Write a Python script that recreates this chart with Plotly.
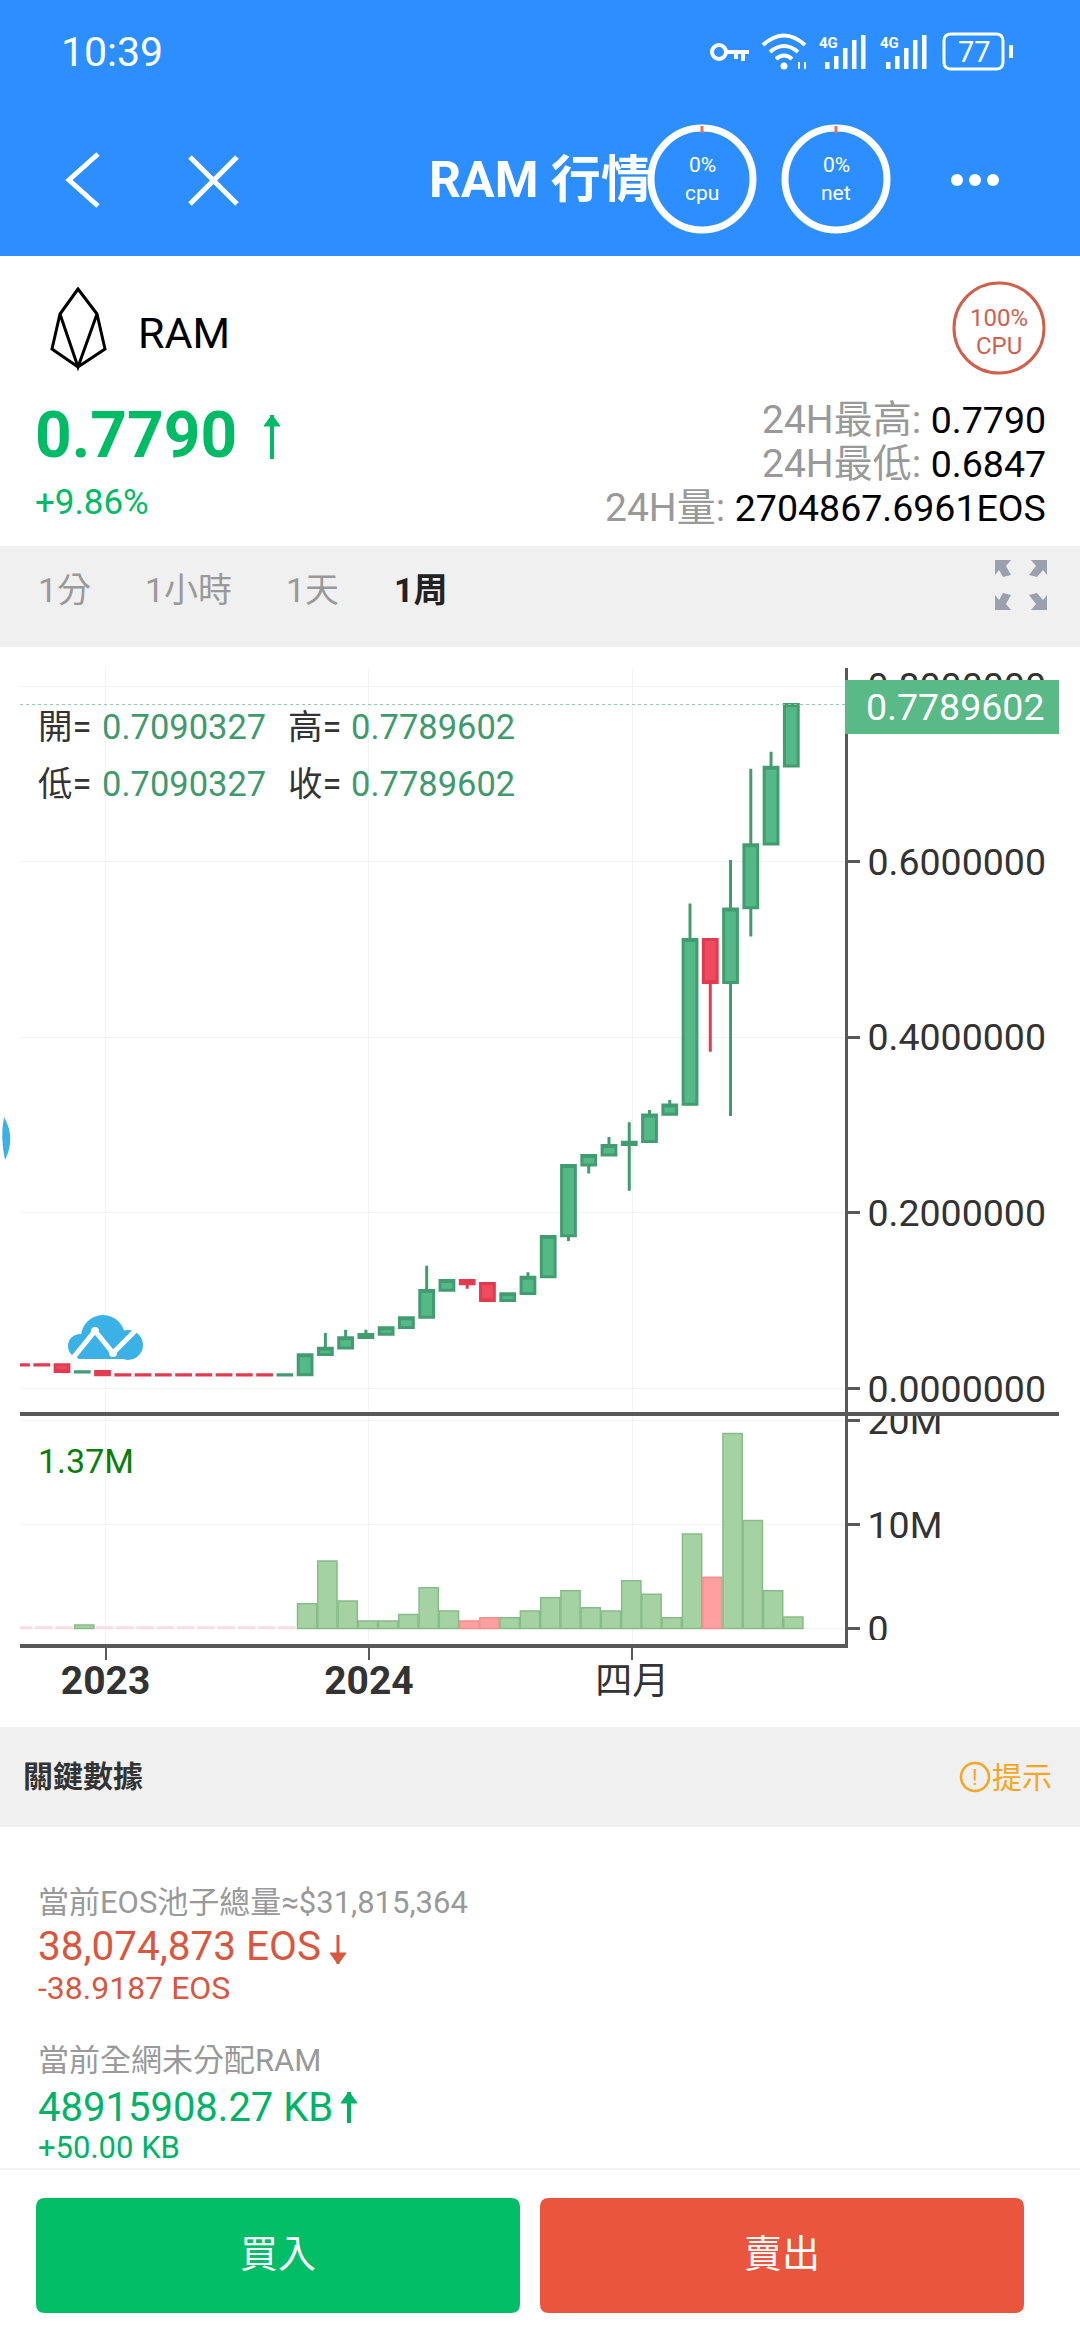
import plotly.graph_objects as go

W = 1080
H = 2340

# weekly candles
opens = [0.0270, 0.0270, 0.0270, 0.0189, 0.0194, 0.0156, 0.0156, 0.0156, 0.0156, 0.0156, 0.0156, 0.0156, 0.0156, 0.0155,
         0.0156, 0.0387, 0.0463, 0.0580, 0.0618, 0.0695, 0.0812, 0.1120, 0.1230, 0.1196, 0.1002, 0.1082, 0.1272,
         0.1741, 0.2547, 0.2660, 0.2779, 0.2814, 0.3124, 0.3238, 0.5115, 0.4624, 0.5475, 0.6202, 0.7090327]
closes = [0.0269, 0.0269, 0.0194, 0.0191, 0.0156, 0.0155, 0.0155, 0.0155, 0.0155, 0.0155, 0.0155, 0.0155, 0.0155, 0.0156,
          0.0384, 0.0459, 0.0577, 0.0615, 0.0691, 0.0805, 0.1116, 0.1230, 0.1192, 0.1002, 0.1079, 0.1268, 0.1731,
          0.2540, 0.2654, 0.2768, 0.2805, 0.3114, 0.3228, 0.5115, 0.4624, 0.5461, 0.6194, 0.7076, 0.7789602]
highs = [0.0270, 0.0270, 0.0270, 0.0191, 0.0194, 0.0156, 0.0156, 0.0156, 0.0156, 0.0156, 0.0156, 0.0156, 0.0156, 0.0156,
         0.0384, 0.0632, 0.0670, 0.0670, 0.0691, 0.0805, 0.1399, 0.1230, 0.1230, 0.1196, 0.1079, 0.1323, 0.1731,
         0.2540, 0.2654, 0.2864, 0.3034, 0.3172, 0.3286, 0.5523, 0.5115, 0.6019, 0.7060, 0.7251, 0.7789602]
lows = [0.0269, 0.0269, 0.0194, 0.0189, 0.0156, 0.0155, 0.0155, 0.0155, 0.0155, 0.0155, 0.0155, 0.0155, 0.0155, 0.0155,
        0.0156, 0.0387, 0.0463, 0.0580, 0.0618, 0.0695, 0.0812, 0.1120, 0.1137, 0.1002, 0.1002, 0.1082, 0.1272,
        0.1680, 0.2448, 0.2660, 0.2253, 0.2814, 0.3124, 0.3238, 0.3835, 0.3104, 0.5149, 0.6202, 0.7090327]
# volume in millions
volumes = [0.15, 0.15, 0.15, 0.35, 0.15, 0.15, 0.15, 0.15, 0.15, 0.15, 0.15, 0.15, 0.15, 0.15,
           2.4, 6.5, 2.66, 0.73, 0.73, 1.36, 3.92, 1.7, 0.73, 1.04, 1.04, 1.7, 2.97,
           3.64, 2.0, 1.7, 4.6, 3.3, 1.04, 9.1, 4.94, 18.8, 10.4, 3.64, 1.1]

candle_index = list(range(len(opens)))
tick_positions = [4.15, 17.15, 30.15]
tick_labels = ['<span style="font-size:39px"><b>2023</b></span>', '<span style="font-size:39px"><b>2024</b></span>', '四月']
price_ticks = [0, 0.2, 0.4, 0.6, 0.8]
volume_ticks = [0, 10, 20]
volume_tick_labels = ['0', '10M', '20M']

FONT = "Roboto, 'Noto Sans CJK TC', sans-serif"
BLUE = '#2d8fff'
GRAY_BAR = '#f0f0f0'
UP = '#00bb66'
DOWN = '#d9573f'
AXIS = '#595959'
GRID = '#f2f2f2'
CANDLE_GREEN = '#439c70'


# pixel position -> paper position
def px(x):
    return x / W


def py(y):
    return 1 - y / H


# path written in pixels, converted to paper coordinates
def svg(s):
    out = []
    is_x = True
    for tok in s.split():
        if tok.isalpha():
            out.append(tok)
            is_x = True
        elif is_x:
            out.append(str(px(float(tok))))
            is_x = False
        else:
            out.append(str(py(float(tok))))
            is_x = True
    return ' '.join(out)


shapes = []
notes = []


def rect(x0, y0, x1, y1, fill, line=None, lw=0):
    shapes.append(dict(type='rect', xref='paper', yref='paper', x0=px(x0), x1=px(x1), y0=py(y0), y1=py(y1),
                       fillcolor=fill, line=dict(color=line or fill, width=lw)))


def circle(cx, cy, r, fill='rgba(0,0,0,0)', line=None, lw=0):
    shapes.append(dict(type='circle', xref='paper', yref='paper', x0=px(cx - r), x1=px(cx + r), y0=py(cy - r), y1=py(cy + r),
                       fillcolor=fill, line=dict(color=line or fill, width=lw)))


def path(s, line=None, lw=0, fill='rgba(0,0,0,0)'):
    shapes.append(dict(type='path', xref='paper', yref='paper', path=svg(s), fillcolor=fill,
                       line=dict(color=line or 'rgba(0,0,0,0)', width=lw)))


def round_rect(x0, y0, x1, y1, r, fill='rgba(0,0,0,0)', line=None, lw=0):
    path(f'M {x0 + r} {y0} L {x1 - r} {y0} Q {x1} {y0} {x1} {y0 + r} L {x1} {y1 - r} Q {x1} {y1} {x1 - r} {y1} '
         f'L {x0 + r} {y1} Q {x0} {y1} {x0} {y1 - r} L {x0} {y0 + r} Q {x0} {y0} {x0 + r} {y0} Z', line, lw, fill)


def text(x, y, s, size, color, anchor='left', bold=False):
    if bold:
        s = '<b>' + s + '</b>'
    notes.append(dict(xref='paper', yref='paper', x=px(x), y=py(y), text=s, showarrow=False, xanchor=anchor,
                      yanchor='middle', borderpad=0, borderwidth=0, font=dict(family=FONT, size=size, color=color)))


def arrow_up(x, y0, y1, color):
    path(f'M {x} {y0} L {x} {y1}', color, 4)
    path(f'M {x - 8} {y0 + 11} L {x} {y0} L {x + 8} {y0 + 11} Z', color, 1, color)


def arrow_down(x, y0, y1, color):
    path(f'M {x} {y0} L {x} {y1}', color, 3)
    path(f'M {x - 8} {y1 - 11} L {x} {y1} L {x + 8} {y1 - 11} Z', color, 1, color)


# header
rect(0, 0, W, 256, BLUE)
text(61, 52, '10:39', 41, 'white')

# key icon
circle(719, 52, 7, line='white', lw=4)
path('M 727 52 L 749 52 M 743 52 L 743 61 M 736 52 L 736 59', 'white', 4)
# wifi
path('M 763 45 Q 784 26 805 45 M 770 52 Q 784 40 798 52 M 776 59 Q 784 52 792 59', 'white', 4)
circle(784, 66, 3.5, 'white')
path('M 799 62 L 799 69 M 805 62 L 805 69', 'white', 2)
# signal bars
for left in [825, 886]:
    text(left - 6, 43, '4G', 15, 'white', bold=True)
    for k, top in enumerate([62, 56, 48, 40, 35]):
        rect(left + k * 9, top, left + k * 9 + 4.5, 69, 'white')
# battery
round_rect(944, 34, 1003, 69, 7, line='white', lw=3)
rect(1009, 45, 1013, 58, 'white')
text(974, 52, '77', 29, 'white', 'center')

path('M 98 154 L 69 180 L 98 206', 'white', 5)
path('M 190 157 L 237 204 M 237 157 L 190 204', 'white', 5)
text(429, 180, 'RAM 行情', 50, 'white', bold=True)

for cx, label in [(702, 'cpu'), (836, 'net')]:
    circle(cx, 179, 51, line='white', lw=7)
    path(f'M {cx} 126 L {cx} 133', '#e2725b', 3)
    text(cx, 165, '0%', 21, 'white', 'center')
    text(cx, 193, label, 21, 'white', 'center')
for cx in [957, 975, 993]:
    circle(cx, 180, 6, 'white')

# coin row
path('M 78 289 L 97 314 L 105 349 L 78 367 L 52 349 L 60 314 Z M 60 314 L 78 367 L 97 314 M 78 289 L 60 314 M 52 349 L 78 367 L 105 349',
     'black', 3)
text(138, 333, 'RAM', 43, 'black')
circle(999, 328, 45, line='#d0604c', lw=3)
text(999, 318, '100%', 24, '#d0604c', 'center')
text(999, 346, 'CPU', 24, '#d0604c', 'center')

text(35, 435, '0.7790', 64, UP, bold=True)
arrow_up(272, 415, 459, UP)
text(35, 502, '+9.86%', 35, UP)

text(1046, 420, '<span style="color:#999999;font-size:39px">24H最高: </span>0.7790', 37.5, 'black', 'right')
text(1046, 464, '<span style="color:#999999;font-size:39px">24H最低: </span>0.6847', 37.5, 'black', 'right')
text(1046, 508, '<span style="color:#999999;font-size:39px">24H量: </span>2704867.6961EOS', 37.5, 'black', 'right')

# period tabs
rect(0, 546, W, 647, GRAY_BAR)
text(38, 590, '1分', 34, '#999999')
text(145, 590, '1小時', 34, '#999999')
text(286, 590, '1天', 34, '#999999')
text(394, 590, '1周', 34, '#222222', bold=True)
for s in ['M 995 560 L 1011 560 L 1006 566 L 1011 575 L 1003 577 L 999 570 L 995 575 Z',
          'M 1047 560 L 1031 560 L 1036 566 L 1029 575 L 1037 577 L 1043 570 L 1047 575 Z',
          'M 995 610 L 1011 610 L 1006 604 L 1011 595 L 1003 593 L 999 600 L 995 595 Z',
          'M 1047 610 L 1031 610 L 1036 604 L 1029 595 L 1037 593 L 1043 600 L 1047 595 Z']:
    path(s, fill='#9aa0ad')

# white strips clip the cut-off volume labels
rect(850, 1405, 1059, 1413, 'white')
rect(850, 1640, 1059, 1660, 'white')
# divider and last-price tag
path('M 20 1414 L 1059 1414', AXIS, 4)
rect(845, 680, 1059, 734, '#59b987')
text(955, 707, '0.7789602', 37.5, 'white', 'center')
shapes.append(dict(type='line', xref='x', yref='y', x0=-0.07, x1=40.65, y0=closes[-1], y1=closes[-1],
                   line=dict(color='#8cc9ab', width=1, dash='dot')))

# readout in the chart corner
text(38, 727, '開=', 34.5, '#333333')
text(102, 727, '0.7090327', 34.5, '#3f9a6e')
text(288, 727, '高=', 34.5, '#333333')
text(351, 727, '0.7789602', 34.5, '#3f9a6e')
text(38, 784, '低=', 34.5, '#333333')
text(102, 784, '0.7090327', 34.5, '#3f9a6e')
text(288, 784, '收=', 34.5, '#333333')
text(351, 784, '0.7789602', 34.5, '#3f9a6e')
text(38, 1461, '1.37M', 34, '#0a7d0a')

# cloud logo and side handle
circle(80, 1346, 12, '#3bb1e6')
circle(103, 1337, 22, '#3bb1e6')
circle(128, 1345, 15, '#3bb1e6')
rect(78, 1340, 132, 1359, '#3bb1e6')
path('M 73 1358 L 95 1331 L 113 1353 L 137 1329', 'white', 5)
circle(95, 1331, 4, 'white')
circle(113, 1353, 4, 'white')
path('M 4 1117 Q 16 1138 5 1160 Q 0 1138 4 1117 Z', fill='#3bb1e6')

# key data section
rect(0, 1727, W, 1827, GRAY_BAR)
text(23, 1776, '關鍵數據', 30, '#333333', bold=True)
circle(975, 1777, 14, line='#f5a623', lw=2.5)
text(975, 1777, '!', 22, '#f5a623', 'center')
text(992, 1777, '提示', 30, '#f5a623')

text(38, 1902, '當前EOS池子總量≈$31,815,364', 31, '#999999')
text(38, 1946, '38,074,873 EOS', 40.5, DOWN)
arrow_down(338, 1935, 1964, DOWN)
text(38, 1988, '-38.9187 EOS', 32, DOWN)
text(38, 2060, '當前全網未分配RAM', 31, '#999999')
text(38, 2107, '48915908.27 KB', 40, '#00b368')
arrow_up(349, 2092, 2123, '#00b368')
text(38, 2147, '+50.00 KB', 31, '#00b368')

# bottom buttons
rect(0, 2168, W, 2170, '#f2f2f2')
rect(0, 2170, W, H, 'white')
round_rect(36, 2198, 520, 2313, 9, fill='#00bd66')
round_rect(540, 2198, 1024, 2313, 9, fill='#ea553d')
text(278, 2254, '買入', 38, 'white', 'center')
text(782, 2254, '賣出', 38, 'white', 'center')

fig = go.Figure()

fig.add_trace(go.Candlestick(
    x=candle_index, open=opens, high=highs, low=lows, close=closes,
    whiskerwidth=0,
    increasing=dict(fillcolor='#53b987', line=dict(color=CANDLE_GREEN, width=3)),
    decreasing=dict(fillcolor='#ef4b5e', line=dict(color='#e23a4e', width=3)),
    xaxis='x', yaxis='y',
))

# the flat weeks before the rise are barely visible, pale and separated
flat = [v < 0.2 for v in volumes]
bar_colors = [('#f9dede' if f else '#a5d2a2' if c >= o else '#ff9f9f') for o, c, f in zip(opens, closes, flat)]
bar_lines = [('#f9dede' if f else '#88bb8a' if c >= o else '#f58e8e') for o, c, f in zip(opens, closes, flat)]
bar_widths = [0.8 if f else 0.95 for f in flat]
bar_offsets = [0.1 - w / 2 for w in bar_widths]
fig.add_trace(go.Bar(
    x=candle_index, y=volumes, width=bar_widths, offset=bar_offsets,
    marker=dict(color=bar_colors, line=dict(color=bar_lines, width=1.5)),
    xaxis='x2', yaxis='y2',
))

x_range = [-0.074, 40.65]
fig.update_layout(
    width=W, height=H, autosize=False,
    margin=dict(l=0, r=0, t=0, b=0, pad=0),
    paper_bgcolor='white', plot_bgcolor='white',
    showlegend=False, boxgap=0.32, boxgroupgap=0,
    font=dict(family=FONT),
    shapes=shapes, annotations=notes,
    xaxis=dict(domain=[px(20), px(845)], range=x_range, anchor='y', rangeslider=dict(visible=False), automargin=False,
               tickmode='array', tickvals=tick_positions, ticktext=[''] * 3, showticklabels=False,
               showgrid=True, gridcolor=GRID, gridwidth=1, zeroline=False, ticks=''),
    yaxis=dict(domain=[py(1414), py(668)], range=[-0.029, 0.8206], side='right', anchor='x', automargin=False,
               tickmode='array', tickvals=price_ticks, tickformat='.7f',
               tickfont=dict(family=FONT, size=37.5, color='#333333'),
               showgrid=True, gridcolor=GRID, gridwidth=1, zeroline=False,
               showline=True, linecolor=AXIS, linewidth=3,
               ticks='outside', ticklen=12, tickwidth=3, tickcolor=AXIS, ticklabelstandoff=0),
    xaxis2=dict(domain=[px(20), px(845)], range=x_range, anchor='y2', automargin=False,
                tickmode='array', tickvals=tick_positions, ticktext=tick_labels,
                tickfont=dict(family=FONT, size=37, color='#333333'),
                showgrid=True, gridcolor=GRID, gridwidth=1, zeroline=False,
                showline=True, linecolor=AXIS, linewidth=4,
                ticks='outside', ticklen=12, tickwidth=2, tickcolor=AXIS, ticklabelstandoff=-10),
    yaxis2=dict(domain=[py(1644), py(1414)], range=[-1.49, 20.67], side='right', anchor='x2', automargin=False,
                tickmode='array', tickvals=volume_ticks, ticktext=volume_tick_labels,
                tickfont=dict(family=FONT, size=37.5, color='#333333'),
                showgrid=True, gridcolor=GRID, gridwidth=1, zeroline=False,
                showline=True, linecolor=AXIS, linewidth=3,
                ticks='outside', ticklen=12, tickwidth=3, tickcolor=AXIS, ticklabelstandoff=0),
)

fig.write_html("out.html", config=dict(displayModeBar=False), post_script="document.body.style.margin='0';")
